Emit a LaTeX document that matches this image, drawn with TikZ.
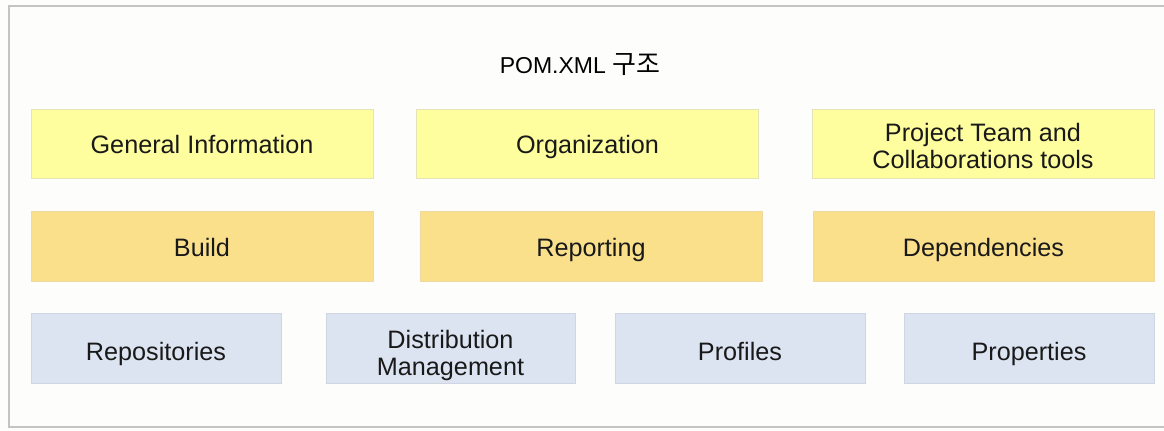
\documentclass[tikz,border=0pt]{standalone}
\usepackage{fontspec}
\setmainfont{Liberation Sans}
\newfontfamily\krfont{Noto Sans CJK KR}
\definecolor{bgc}{HTML}{FDFEFC}
\definecolor{framec}{HTML}{C4C4C4}
\definecolor{yfill}{HTML}{FEFE9E}
\definecolor{ydraw}{HTML}{E4E4B8}
\definecolor{ofill}{HTML}{FBE08C}
\definecolor{odraw}{HTML}{EED9A0}
\definecolor{bfill}{HTML}{DCE4F2}
\definecolor{bdraw}{HTML}{CFD6E2}
\newcommand{\twolines}[2]{\begin{tabular}[b]{@{}c@{}}#1\\#2\end{tabular}}
\tikzset{
  px/.style={x=0.5pt,y=-0.5pt},
  box/.style={draw, line width=0.5pt, rectangle, inner sep=0pt,
    font=\fontsize{12.6}{13.5}\selectfont, text=black!90, text depth=0pt},
  ybox/.style={box, fill=yfill, draw=ydraw, minimum width=171pt, minimum height=34.5pt, text height=9.8pt},
  obox/.style={box, fill=ofill, draw=odraw, minimum width=171pt, minimum height=35pt, text height=10.7pt},
  bbox/.style={box, fill=bfill, draw=bdraw, minimum width=125pt, minimum height=35pt, text height=12pt},
}
\begin{document}
\begin{tikzpicture}[px]
\useasboundingbox (0,0) rectangle (1164,430);
\fill[bgc] (0,0) rectangle (1164,430);
\draw[framec, line width=1.3pt] (1164,6) -- (9,6) -- (9,427) -- (1164,427);
\node[anchor=base, font=\fontsize{11.5}{13}\selectfont] (title) at (580,73) {POM.XML {\krfont\fontsize{13}{13}\selectfont 구조}};
% row 1
\node[ybox] (gi) at (202,143.5) {General Information};
\node[ybox] (org) at (587.5,143.5) {Organization};
\node[ybox, text height=25pt] (pt) at (983,143.5) {\twolines{Project Team and}{Collaborations tools}};
% row 2
\node[obox] (build) at (202,246) {Build};
\node[obox] (rep) at (591,246) {Reporting};
\node[obox, minimum width=170.5pt] (dep) at (983.5,246) {Dependencies};
% row 3
\node[bbox] (repo) at (156,348) {Repositories};
\node[bbox, minimum width=124.5pt, text height=27pt] (dist) at (450.5,348) {\twolines{Distribution}{Management}};
\node[bbox] (prof) at (740,348) {Profiles};
\node[bbox] (prop) at (1029,348) {Properties};
\end{tikzpicture}
\end{document}
